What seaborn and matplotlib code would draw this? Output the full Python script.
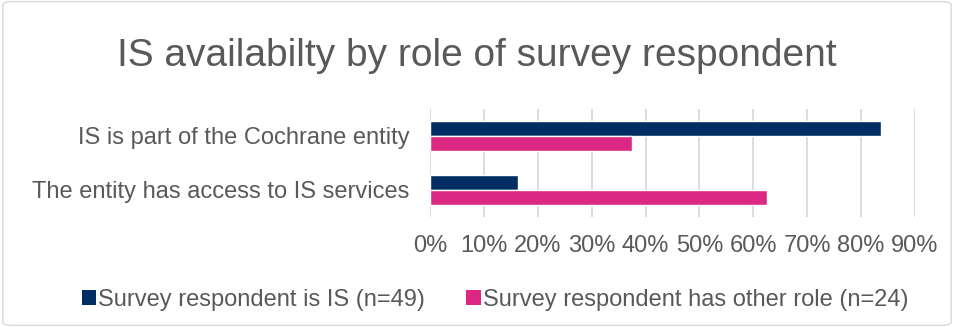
import matplotlib
matplotlib.use("Agg")
import matplotlib.pyplot as plt
import seaborn as sns
import pandas as pd
from matplotlib.patches import FancyBboxPatch, Patch
from matplotlib.ticker import FixedLocator, FuncFormatter

categories = ["IS is part of the Cochrane entity", "The entity has access to IS services"]
series_names = ["Survey respondent is IS (n=49)", "Survey respondent has other role (n=24)"]
is_values = [0.837, 0.163]
other_values = [0.375, 0.625]
tick_values = [0, 0.1, 0.2, 0.3, 0.4, 0.5, 0.6, 0.7, 0.8, 0.9]
colors = ["#002D62", "#DC2882"]
title = "IS availabilty by role of survey respondent"

rows = []
for c, v in zip(categories, is_values):
    rows.append({"category": c, "series": series_names[0], "value": v})
for c, v in zip(categories, other_values):
    rows.append({"category": c, "series": series_names[1], "value": v})
df = pd.DataFrame(rows)

sns.set_theme(style="white")
plt.rcParams["font.family"] = ["Liberation Sans", "DejaVu Sans"]
text_color = "#595959"

fig = plt.figure(figsize=(9.54, 3.27), dpi=100)
ax = fig.add_axes([0.4507, 0.3364, 0.5084, 0.3303])

sns.barplot(data=df, y="category", x="value", hue="series", order=categories,
            hue_order=series_names, palette=colors, width=0.54, orient="h",
            ax=ax, saturation=1, legend=False)

ax.set_xlim(0, 0.9)
ax.set_ylim(1.5, -0.5)
ax.xaxis.set_major_locator(FixedLocator(tick_values))
ax.xaxis.set_major_formatter(FuncFormatter(lambda v, p: f"{round(v*100)}%"))
ax.grid(axis="x", color="#D9D9D9", linewidth=1.3)
ax.set_axisbelow(True)
for s in ax.spines.values():
    s.set_visible(False)
ax.set_xlabel("")
ax.set_ylabel("")
ax.tick_params(axis="x", labelsize=17, colors=text_color, length=0, pad=13)
ax.tick_params(axis="y", labelsize=17, colors=text_color, length=0, pad=15)

fig.text(0.5, 0.83, title, ha="center", va="center", fontsize=28, color=text_color)

handles = [Patch(facecolor=c, edgecolor="none") for c in colors]
leg = fig.legend(handles, series_names, loc="center", bbox_to_anchor=(0.519, 0.083),
                 ncol=2, frameon=False, fontsize=17, handlelength=0.6,
                 handleheight=0.6, handletextpad=0.1, columnspacing=1.75)
for t in leg.get_texts():
    t.set_color(text_color)

border = FancyBboxPatch((0.003, 0.005), 0.994, 0.99, boxstyle="round,pad=0,rounding_size=0.01",
                        transform=fig.transFigure, fill=False, edgecolor="#D9D9D9", linewidth=1)
fig.patches.append(border)

fig.savefig("out.png", dpi=100, facecolor="white")
